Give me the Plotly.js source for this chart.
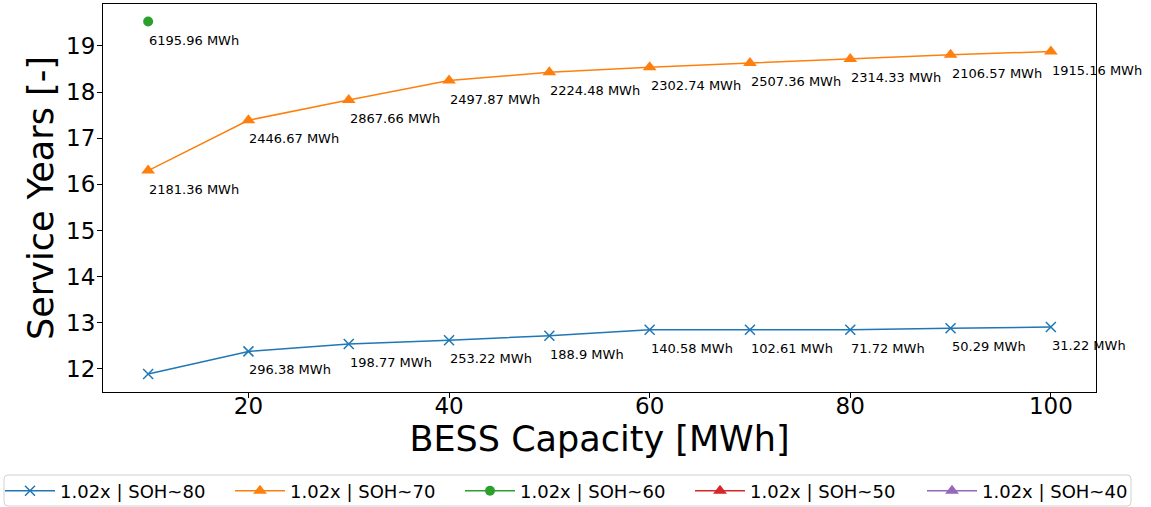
<!DOCTYPE html>
<html>
<head>
<meta charset="utf-8">
<script src="https://cdn.plot.ly/plotly-3.0.1.min.js"></script>
<style>
  html, body { margin: 0; padding: 0; background: #ffffff; }
  #chart { width: 1151px; height: 507px; }
</style>
</head>
<body>
<div id="chart"></div>
<script>
// BESS capacity sweep [MWh]
const capacity = [10, 20, 30, 40, 50, 60, 70, 80, 90, 100];

// Service years per end-of-life state-of-health threshold
const years_soh80 = [11.89, 12.38, 12.54, 12.62, 12.72, 12.85, 12.85, 12.85, 12.88, 12.91];
const years_soh70 = [16.30, 17.39, 17.83, 18.25, 18.43, 18.54, 18.63, 18.72, 18.81, 18.88];
const capacity_soh60 = [10];
const years_soh60 = [19.53];
// no feasible configuration reached these thresholds
const capacity_soh50 = [null];
const years_soh50 = [null];
const capacity_soh40 = [null];
const years_soh40 = [null];

// Energy annotated under each point [MWh] (null = no label)
const energy_soh80 = [null, 296.38, 198.77, 253.22, 188.9, 140.58, 102.61, 71.72, 50.29, 31.22];
const energy_soh70 = [2181.36, 2446.67, 2867.66, 2497.87, 2224.48, 2302.74, 2507.36, 2314.33, 2106.57, 1915.16];
const energy_soh60 = [6195.96];

const seriesNames = ['1.02x | SOH~80', '1.02x | SOH~70', '1.02x | SOH~60', '1.02x | SOH~50', '1.02x | SOH~40'];
const colors = ['#1f77b4', '#ff7f0e', '#2ca02c', '#d62728', '#9467bd'];

const FONT = 'DejaVu Sans, Verdana, sans-serif';

// Figure geometry in pixels
const W = 1151, H = 507;
const M = { l: 103, r: 55, t: 4, b: 115 };
const PW = W - M.l - M.r, PH = H - M.t - M.b;
const px2x = p => (p - M.l) / PW;          // pixel x -> paper x
const px2y = p => (H - M.b - p) / PH;      // pixel y -> paper y

function lineTrace(x, y, i, symbol, size, legendId) {
  const open = symbol.indexOf('open') >= 0;
  return {
    type: 'scatter',
    mode: 'lines+markers',
    x: x, y: y,
    name: seriesNames[i],
    legend: legendId,
    line: { color: colors[i], width: 1.5 },
    marker: {
      symbol: symbol, size: size, color: colors[i],
      line: { color: colors[i], width: open ? 1.5 : 0 }
    },
    cliponaxis: false
  };
}

const traces = [
  lineTrace(capacity, years_soh80, 0, 'x-thin-open', 10, 'legend'),
  lineTrace(capacity, years_soh70, 1, 'triangle-up', 12, 'legend'),
  lineTrace(capacity_soh60, years_soh60, 2, 'circle', 10, 'legend'),
  lineTrace(capacity_soh50, years_soh50, 3, 'triangle-up', 12, 'legend'),
  lineTrace(capacity_soh40, years_soh40, 4, 'triangle-up', 12, 'legend2')
];

// Energy labels placed just below each marker
const annotations = [];
function addLabels(xs, ys, energies) {
  xs.forEach((x, k) => {
    if (energies[k] === null || energies[k] === undefined) return;
    annotations.push({
      x: x, y: ys[k], xref: 'x', yref: 'y',
      text: energies[k] + ' MWh',
      showarrow: false,
      xanchor: 'left', yanchor: 'middle',
      xshift: -1, yshift: -18.5,
      font: { family: FONT, size: 13, color: '#000000' }
    });
  });
}
addLabels(capacity, years_soh80, energy_soh80);
addLabels(capacity, years_soh70, energy_soh70);
addLabels(capacity_soh60, years_soh60, energy_soh60);

// Rounded frame around the legend row
function roundedFrame(x0, y0, x1, y1, r) {
  const X = px2x, Y = px2y;
  return 'M' + X(x0 + r) + ',' + Y(y0) +
    ' L' + X(x1 - r) + ',' + Y(y0) + ' Q' + X(x1) + ',' + Y(y0) + ' ' + X(x1) + ',' + Y(y0 + r) +
    ' L' + X(x1) + ',' + Y(y1 - r) + ' Q' + X(x1) + ',' + Y(y1) + ' ' + X(x1 - r) + ',' + Y(y1) +
    ' L' + X(x0 + r) + ',' + Y(y1) + ' Q' + X(x0) + ',' + Y(y1) + ' ' + X(x0) + ',' + Y(y1 - r) +
    ' L' + X(x0) + ',' + Y(y0 + r) + ' Q' + X(x0) + ',' + Y(y0) + ' ' + X(x0 + r) + ',' + Y(y0) + ' Z';
}

const legendStyle = {
  orientation: 'h',
  xref: 'container', yref: 'container',
  yanchor: 'middle',
  y: (H - 491) / H,
  xanchor: 'left',
  bgcolor: 'rgba(0,0,0,0)',
  borderwidth: 0,
  font: { family: FONT, size: 18, color: '#000000' },
  entrywidth: 165, entrywidthmode: 'pixels',
  itemwidth: 50,
  traceorder: 'normal'
};

const layout = {
  width: W, height: H,
  margin: { l: M.l, r: M.r, t: M.t, b: M.b, pad: 0 },
  paper_bgcolor: '#ffffff',
  plot_bgcolor: '#ffffff',
  font: { family: FONT, color: '#000000' },
  showlegend: true,
  xaxis: {
    range: [5.5, 104.5],
    tickvals: [20, 40, 60, 80, 100],
    ticks: 'outside', ticklen: 5, tickwidth: 1, tickcolor: '#000000',
    ticklabelstandoff: -12,
    tickfont: { family: FONT, size: 23, color: '#000000' },
    showline: true, linecolor: '#000000', linewidth: 1, mirror: true,
    showgrid: false, zeroline: false,
    title: { text: 'BESS Capacity [MWh]', font: { family: FONT, size: 35, color: '#000000' }, standoff: 0 }
  },
  yaxis: {
    range: [11.5, 19.91],
    tickvals: [12, 13, 14, 15, 16, 17, 18, 19],
    ticks: 'outside', ticklen: 5, tickwidth: 1, tickcolor: '#000000',
    ticklabelstandoff: -3,
    tickfont: { family: FONT, size: 23, color: '#000000' },
    showline: true, linecolor: '#000000', linewidth: 1, mirror: true,
    showgrid: false, zeroline: false,
    title: { text: 'Service Years [-]', font: { family: FONT, size: 35, color: '#000000' }, standoff: 1 }
  },
  legend: Object.assign({}, legendStyle, { x: 0 }),
  legend2: Object.assign({}, legendStyle, { x: 922 / W, entrywidth: 150 }),
  shapes: [{
    type: 'path', xref: 'paper', yref: 'paper', layer: 'below',
    path: roundedFrame(4, 475, 1131, 506, 4),
    line: { color: '#d0d0d0', width: 1 },
    fillcolor: '#ffffff'
  }],
  annotations: annotations
};

Plotly.newPlot('chart', traces, layout, { displayModeBar: false, staticPlot: true });
</script>
</body>
</html>
